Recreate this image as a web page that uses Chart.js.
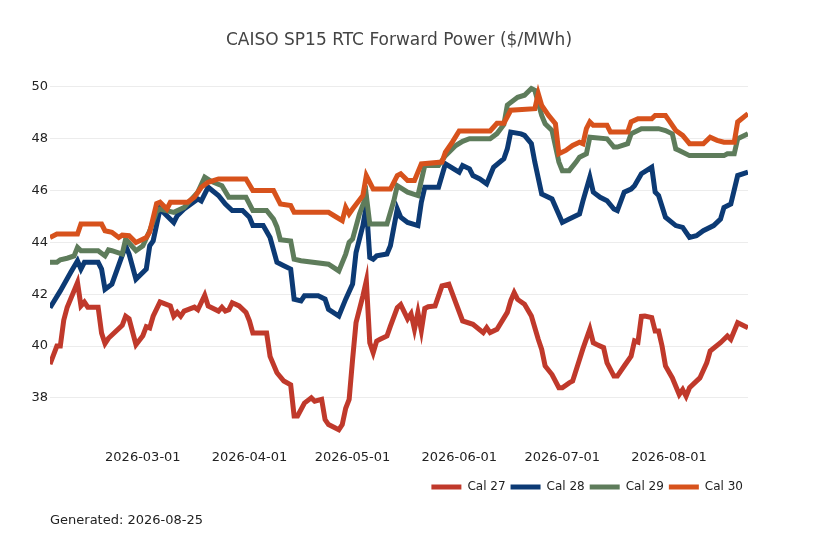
<!DOCTYPE html>
<html>
<head>
<meta charset="utf-8">
<script src="https://cdn.jsdelivr.net/npm/chart.js@4.4.1/dist/chart.umd.min.js"></script>
<style>
  html, body { margin: 0; padding: 0; background: #ffffff; }
  #wrap { position: relative; width: 818px; height: 545px; }
  #footer { position: absolute; left: 50px; top: 512px; font: 13px "DejaVu Sans", sans-serif; color: #222; line-height: 16px; white-space: nowrap; }
</style>
</head>
<body>
<div id="wrap">
  <canvas id="c" width="818" height="545"></canvas>
  <div id="footer">Generated: 2026-08-25</div>
</div>
<script>
const chartTitle = "CAISO SP15 RTC Forward Power ($/MWh)";
const seriesNames = ["Cal 27", "Cal 28", "Cal 29", "Cal 30"];
const seriesColors = ["#c0392b", "#0c3a74", "#5e7c5b", "#d7521c"];
const yTickValues = [38, 40, 42, 44, 46, 48, 50];
const xTickDates = ["2026-03-01", "2026-04-01", "2026-05-01", "2026-06-01", "2026-07-01", "2026-08-01"];

const cal27Dates = ["2026-02-02","2026-02-04","2026-02-05","2026-02-06","2026-02-07","2026-02-10","2026-02-11","2026-02-12","2026-02-13","2026-02-16","2026-02-17","2026-02-18","2026-02-19","2026-02-23","2026-02-24","2026-02-25","2026-02-27","2026-03-01","2026-03-02","2026-03-03","2026-03-04","2026-03-06","2026-03-08","2026-03-09","2026-03-10","2026-03-11","2026-03-12","2026-03-13","2026-03-16","2026-03-17","2026-03-19","2026-03-20","2026-03-23","2026-03-24","2026-03-25","2026-03-26","2026-03-27","2026-03-29","2026-03-31","2026-04-01","2026-04-02","2026-04-06","2026-04-07","2026-04-09","2026-04-11","2026-04-13","2026-04-14","2026-04-15","2026-04-17","2026-04-19","2026-04-20","2026-04-22","2026-04-23","2026-04-24","2026-04-27","2026-04-28","2026-04-29","2026-04-30","2026-05-01","2026-05-02","2026-05-04","2026-05-05","2026-05-06","2026-05-07","2026-05-08","2026-05-09","2026-05-11","2026-05-12","2026-05-14","2026-05-15","2026-05-17","2026-05-18","2026-05-19","2026-05-20","2026-05-21","2026-05-22","2026-05-23","2026-05-25","2026-05-27","2026-05-29","2026-05-31","2026-06-02","2026-06-05","2026-06-08","2026-06-09","2026-06-10","2026-06-12","2026-06-15","2026-06-16","2026-06-17","2026-06-18","2026-06-20","2026-06-22","2026-06-24","2026-06-25","2026-06-26","2026-06-28","2026-06-30","2026-07-01","2026-07-03","2026-07-04","2026-07-06","2026-07-07","2026-07-09","2026-07-10","2026-07-11","2026-07-13","2026-07-14","2026-07-16","2026-07-17","2026-07-19","2026-07-21","2026-07-22","2026-07-23","2026-07-24","2026-07-25","2026-07-27","2026-07-28","2026-07-29","2026-07-30","2026-07-31","2026-08-02","2026-08-04","2026-08-05","2026-08-06","2026-08-07","2026-08-10","2026-08-12","2026-08-13","2026-08-16","2026-08-18","2026-08-19","2026-08-20","2026-08-21","2026-08-24"];
const cal27Values = [39.3,40.0,40.0,41.0,41.5,42.45,41.55,41.7,41.5,41.5,40.5,40.1,40.3,40.8,41.15,41.05,40.05,40.4,40.75,40.7,41.15,41.7,41.6,41.55,41.15,41.3,41.15,41.35,41.5,41.4,41.96,41.55,41.35,41.5,41.35,41.4,41.67,41.55,41.3,40.97,40.5,40.5,39.6,38.97,38.65,38.5,37.3,37.3,37.8,38.0,37.87,37.94,37.16,36.97,36.77,36.97,37.6,37.94,39.48,40.9,41.94,42.52,40.13,39.74,40.19,40.26,40.39,40.77,41.48,41.6,41.05,41.25,40.65,41.3,40.6,41.45,41.52,41.55,42.32,42.39,41.68,40.97,40.84,40.52,40.71,40.52,40.65,41.3,41.75,42.06,41.8,41.61,41.16,40.26,39.87,39.23,38.9,38.39,38.39,38.58,38.65,39.48,39.9,40.65,40.13,40.06,39.94,39.35,38.84,38.84,39.23,39.61,40.2,40.15,41.15,41.16,41.1,40.58,40.58,40.0,39.23,38.77,38.13,38.32,38.06,38.39,38.77,39.35,39.81,40.13,40.39,40.26,40.58,40.9,40.71];

const cal28Dates = ["2026-02-02","2026-02-05","2026-02-08","2026-02-10","2026-02-11","2026-02-12","2026-02-16","2026-02-17","2026-02-18","2026-02-20","2026-02-24","2026-02-25","2026-02-27","2026-03-02","2026-03-03","2026-03-04","2026-03-06","2026-03-10","2026-03-11","2026-03-13","2026-03-17","2026-03-18","2026-03-20","2026-03-23","2026-03-25","2026-03-27","2026-03-30","2026-04-01","2026-04-02","2026-04-05","2026-04-07","2026-04-09","2026-04-11","2026-04-13","2026-04-14","2026-04-16","2026-04-17","2026-04-21","2026-04-23","2026-04-24","2026-04-27","2026-04-29","2026-05-01","2026-05-02","2026-05-04","2026-05-05","2026-05-06","2026-05-07","2026-05-08","2026-05-11","2026-05-12","2026-05-14","2026-05-15","2026-05-17","2026-05-20","2026-05-21","2026-05-22","2026-05-26","2026-05-28","2026-06-01","2026-06-02","2026-06-04","2026-06-05","2026-06-07","2026-06-09","2026-06-10","2026-06-11","2026-06-14","2026-06-15","2026-06-16","2026-06-19","2026-06-20","2026-06-22","2026-06-23","2026-06-25","2026-06-28","2026-07-01","2026-07-03","2026-07-06","2026-07-07","2026-07-09","2026-07-10","2026-07-12","2026-07-14","2026-07-16","2026-07-17","2026-07-19","2026-07-21","2026-07-22","2026-07-24","2026-07-27","2026-07-28","2026-07-29","2026-07-31","2026-08-03","2026-08-05","2026-08-07","2026-08-09","2026-08-11","2026-08-14","2026-08-16","2026-08-17","2026-08-19","2026-08-21","2026-08-24"];
const cal28Values = [41.48,42.13,42.84,43.29,42.97,43.23,43.23,42.97,42.19,42.39,43.87,43.55,42.58,42.97,43.87,44.06,45.29,44.77,45.03,45.29,45.68,45.6,46.13,45.81,45.48,45.23,45.23,44.97,44.65,44.65,44.19,43.23,43.1,42.97,41.81,41.74,41.94,41.94,41.81,41.42,41.16,41.81,42.39,43.61,44.65,45.42,43.42,43.35,43.48,43.55,43.87,45.29,44.97,44.77,44.65,45.55,46.13,46.13,47.03,46.71,46.97,46.84,46.58,46.45,46.26,46.58,46.9,47.23,47.61,48.26,48.19,48.13,47.81,47.1,45.87,45.68,44.77,44.9,45.1,45.6,46.52,45.94,45.74,45.61,45.29,45.23,45.94,46.06,46.19,46.65,46.9,45.94,45.81,44.97,44.65,44.58,44.19,44.26,44.45,44.65,44.9,45.35,45.48,46.58,46.71];

const cal29Dates = ["2026-02-02","2026-02-04","2026-02-05","2026-02-07","2026-02-09","2026-02-10","2026-02-11","2026-02-16","2026-02-18","2026-02-19","2026-02-20","2026-02-23","2026-02-24","2026-02-27","2026-03-01","2026-03-03","2026-03-05","2026-03-06","2026-03-10","2026-03-13","2026-03-17","2026-03-19","2026-03-21","2026-03-24","2026-03-26","2026-03-31","2026-04-02","2026-04-06","2026-04-08","2026-04-09","2026-04-10","2026-04-13","2026-04-14","2026-04-16","2026-04-24","2026-04-27","2026-04-29","2026-04-30","2026-05-01","2026-05-03","2026-05-05","2026-05-06","2026-05-11","2026-05-13","2026-05-14","2026-05-17","2026-05-20","2026-05-22","2026-05-26","2026-05-28","2026-05-31","2026-06-02","2026-06-04","2026-06-10","2026-06-12","2026-06-14","2026-06-15","2026-06-18","2026-06-20","2026-06-22","2026-06-23","2026-06-25","2026-06-26","2026-06-28","2026-06-30","2026-07-01","2026-07-03","2026-07-05","2026-07-06","2026-07-08","2026-07-09","2026-07-14","2026-07-16","2026-07-17","2026-07-20","2026-07-21","2026-07-24","2026-07-29","2026-07-31","2026-08-02","2026-08-03","2026-08-04","2026-08-07","2026-08-17","2026-08-18","2026-08-20","2026-08-21","2026-08-24"];
const cal29Values = [43.23,43.23,43.33,43.39,43.48,43.81,43.68,43.68,43.48,43.71,43.68,43.55,44.13,43.68,43.87,44.45,45.2,45.29,45.16,45.35,45.94,46.52,46.35,46.19,45.74,45.74,45.23,45.23,44.9,44.6,44.1,44.05,43.35,43.29,43.16,42.9,43.55,44.0,44.13,45.1,45.81,44.71,44.71,45.61,46.19,45.94,45.81,46.97,46.97,47.35,47.74,47.9,48.0,48.0,48.2,48.55,49.3,49.6,49.68,49.94,49.87,48.9,48.58,48.32,47.1,46.77,46.77,47.1,47.29,47.42,48.06,48.0,47.68,47.68,47.81,48.19,48.39,48.39,48.32,48.19,47.61,47.55,47.35,47.35,47.42,47.42,48.0,48.19];

const cal30Dates = ["2026-02-02","2026-02-04","2026-02-10","2026-02-11","2026-02-17","2026-02-18","2026-02-20","2026-02-22","2026-02-23","2026-02-25","2026-02-27","2026-03-02","2026-03-03","2026-03-05","2026-03-06","2026-03-08","2026-03-09","2026-03-14","2026-03-16","2026-03-18","2026-03-20","2026-03-23","2026-03-31","2026-04-02","2026-04-08","2026-04-10","2026-04-13","2026-04-14","2026-04-24","2026-04-26","2026-04-28","2026-04-29","2026-04-30","2026-05-01","2026-05-04","2026-05-05","2026-05-07","2026-05-12","2026-05-14","2026-05-15","2026-05-17","2026-05-19","2026-05-21","2026-05-27","2026-05-28","2026-05-30","2026-06-01","2026-06-10","2026-06-12","2026-06-14","2026-06-16","2026-06-23","2026-06-24","2026-06-25","2026-06-27","2026-06-29","2026-06-30","2026-07-02","2026-07-04","2026-07-06","2026-07-07","2026-07-08","2026-07-09","2026-07-10","2026-07-14","2026-07-15","2026-07-20","2026-07-21","2026-07-23","2026-07-27","2026-07-28","2026-07-31","2026-08-01","2026-08-03","2026-08-05","2026-08-07","2026-08-11","2026-08-13","2026-08-15","2026-08-17","2026-08-20","2026-08-21","2026-08-24"];
const cal30Values = [44.19,44.32,44.32,44.71,44.71,44.45,44.39,44.19,44.28,44.26,44.0,44.19,44.4,45.5,45.55,45.29,45.55,45.55,45.74,46.13,46.32,46.45,46.45,46.0,46.0,45.48,45.42,45.16,45.16,45.0,44.84,45.35,45.1,45.29,45.81,46.58,46.06,46.06,46.58,46.65,46.39,46.39,47.03,47.1,47.48,47.87,48.3,48.3,48.6,48.6,49.1,49.16,49.74,49.29,48.9,48.58,47.42,47.55,47.74,47.87,47.81,48.39,48.65,48.52,48.52,48.26,48.26,48.65,48.77,48.77,48.9,48.9,48.71,48.32,48.13,47.81,47.81,48.06,47.94,47.87,47.87,48.65,48.97];

const allDates = [cal27Dates, cal28Dates, cal29Dates, cal30Dates];
const allValues = [cal27Values, cal28Values, cal29Values, cal30Values];

const DAY = 86400000;
function toMs(s) { const p = s.split("-").map(Number); return Date.UTC(p[0], p[1] - 1, p[2]); }
const baseMs = toMs(cal27Dates[0]);
function toDay(s) { return Math.round((toMs(s) - baseMs) / DAY); }
function fromDay(d) { return new Date(baseMs + d * DAY).toISOString().slice(0, 10); }

const datasets = seriesNames.map((name, i) => ({
  label: name,
  data: allDates[i].map((d, j) => ({ x: toDay(d), y: allValues[i][j] })),
  borderColor: seriesColors[i],
  backgroundColor: seriesColors[i],
  borderWidth: 5,
  pointRadius: 0,
  pointHoverRadius: 0,
  tension: 0,
  fill: false,
  order: seriesNames.length - 1 - i
}));

const FONT = "'DejaVu Sans', sans-serif";

new Chart(document.getElementById("c"), {
  type: "line",
  data: { datasets },
  options: {
    responsive: false,
    animation: false,
    events: [],
    layout: { padding: { top: 0, right: 70, bottom: 42, left: 0 } },
    scales: {
      x: {
        type: "linear",
        min: toDay(cal27Dates[0]),
        max: toDay(cal27Dates[cal27Dates.length - 1]),
        grid: { display: false, drawTicks: false },
        border: { display: false },
        afterBuildTicks: (s) => { s.ticks = xTickDates.map(d => ({ value: toDay(d) })); },
        afterFit: (s) => { s.height = 39; },
        ticks: {
          autoSkip: false,
          maxRotation: 0,
          padding: 13,
          color: "#222",
          font: { family: FONT, size: 13 },
          callback: (v) => fromDay(v)
        }
      },
      y: {
        type: "linear",
        min: 36.49,
        max: 50.5,
        grid: { color: "#ececec", lineWidth: 1, drawTicks: false },
        border: { display: false },
        afterBuildTicks: (s) => { s.ticks = yTickValues.map(v => ({ value: v })); },
        afterFit: (s) => { s.width = 50; },
        ticks: {
          padding: 2,
          color: "#222",
          font: { family: FONT, size: 13 },
          callback: (v) => String(v)
        }
      }
    },
    plugins: {
      tooltip: { enabled: false },
      title: {
        display: true,
        text: chartTitle,
        fullSize: false,
        color: "#444",
        font: { family: FONT, size: 17, weight: "normal" },
        padding: { top: 30, bottom: 23.6 }
      },
      legend: {
        display: true,
        position: "bottom",
        align: "end",
        labels: {
          boxWidth: 30,
          boxHeight: 5,
          padding: 5,
          color: "#222",
          font: { family: FONT, size: 12 },
          sort: (a, b) => a.datasetIndex - b.datasetIndex,
          generateLabels: (chart) => Chart.defaults.plugins.legend.labels.generateLabels(chart).map(it => ({
            ...it, fillStyle: seriesColors[it.datasetIndex], strokeStyle: seriesColors[it.datasetIndex], lineWidth: 0
          }))
        }
      }
    }
  }
});
</script>
</body>
</html>
